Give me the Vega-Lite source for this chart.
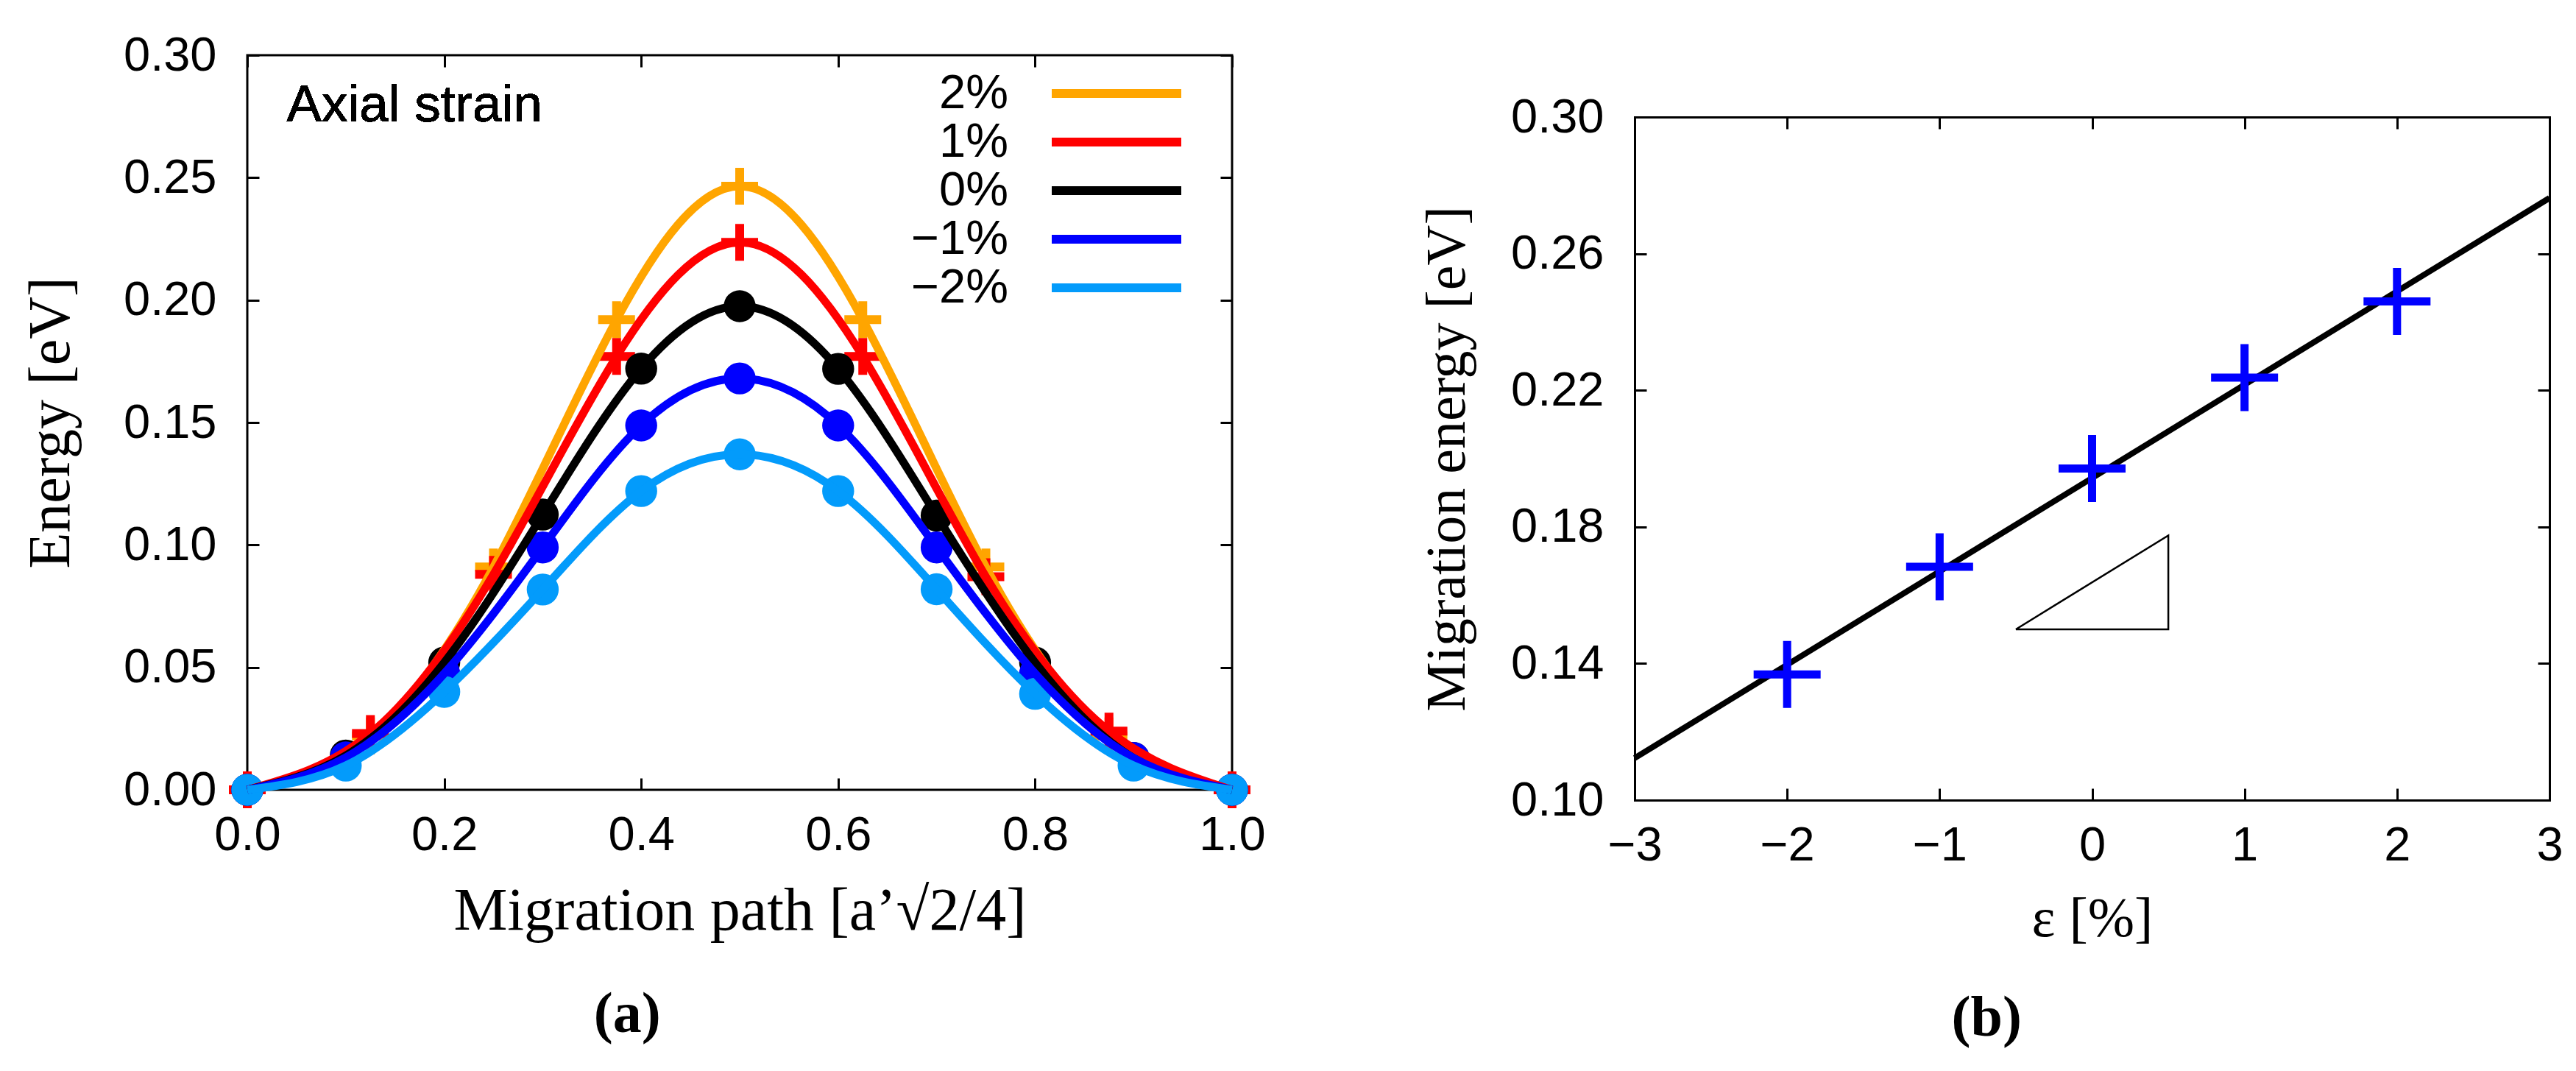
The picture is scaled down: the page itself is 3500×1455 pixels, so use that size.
{
  "$schema": "https://vega.github.io/schema/vega-lite/v6.json",
  "background": "white",
  "padding": {"left": 27, "top": 41, "right": 10, "bottom": 10},
  "spacing": 203,
  "config": {
    "view": {"stroke": "black", "strokeWidth": 3},
    "axis": {
      "domain": false, "grid": false, "labelFlush": false,
      "tickColor": "black", "tickWidth": 3, "tickSize": -16,
      "labelFont": "Liberation Sans", "labelFontSize": 65, "labelColor": "black", "labelPadding": 58,
      "titleFont": "Liberation Serif", "titleFontSize": 76, "titleFontWeight": "normal", "titleColor": "black"
    },
    "axisX": {"labelPadding": 46},
    "title": {"font": "Liberation Serif", "fontSize": 78, "fontWeight": "bold", "color": "black", "anchor": "middle", "frame": "bounds"}
  },
  "datasets": {
    "path": [
      {"x": 0, "E": 0, "strain": "2%"},
      {"x": 0.125, "E": 0.022, "strain": "2%"},
      {"x": 0.25, "E": 0.091, "strain": "2%"},
      {"x": 0.375, "E": 0.192, "strain": "2%"},
      {"x": 0.5, "E": 0.2465, "strain": "2%"},
      {"x": 0.625, "E": 0.192, "strain": "2%"},
      {"x": 0.75, "E": 0.091, "strain": "2%"},
      {"x": 0.875, "E": 0.022, "strain": "2%"},
      {"x": 1, "E": 0, "strain": "2%"},
      {"x": 0, "E": 0, "strain": "1%"},
      {"x": 0.125, "E": 0.023, "strain": "1%"},
      {"x": 0.25, "E": 0.088, "strain": "1%"},
      {"x": 0.375, "E": 0.177, "strain": "1%"},
      {"x": 0.5, "E": 0.2236, "strain": "1%"},
      {"x": 0.625, "E": 0.177, "strain": "1%"},
      {"x": 0.75, "E": 0.087, "strain": "1%"},
      {"x": 0.875, "E": 0.024, "strain": "1%"},
      {"x": 1, "E": 0, "strain": "1%"},
      {"x": 0, "E": 0, "strain": "0%"},
      {"x": 0.1, "E": 0.014, "strain": "0%"},
      {"x": 0.2, "E": 0.052, "strain": "0%"},
      {"x": 0.3, "E": 0.1124, "strain": "0%"},
      {"x": 0.4, "E": 0.172, "strain": "0%"},
      {"x": 0.5, "E": 0.1975, "strain": "0%"},
      {"x": 0.6, "E": 0.1719, "strain": "0%"},
      {"x": 0.7, "E": 0.112, "strain": "0%"},
      {"x": 0.8, "E": 0.052, "strain": "0%"},
      {"x": 0.9, "E": 0.013, "strain": "0%"},
      {"x": 1, "E": 0, "strain": "0%"},
      {"x": 0, "E": 0, "strain": "−1%"},
      {"x": 0.1, "E": 0.0132, "strain": "−1%"},
      {"x": 0.2, "E": 0.0475, "strain": "−1%"},
      {"x": 0.3, "E": 0.099, "strain": "−1%"},
      {"x": 0.4, "E": 0.1488, "strain": "−1%"},
      {"x": 0.5, "E": 0.168, "strain": "−1%"},
      {"x": 0.6, "E": 0.1488, "strain": "−1%"},
      {"x": 0.7, "E": 0.099, "strain": "−1%"},
      {"x": 0.8, "E": 0.0475, "strain": "−1%"},
      {"x": 0.9, "E": 0.013, "strain": "−1%"},
      {"x": 1, "E": 0, "strain": "−1%"},
      {"x": 0, "E": 0, "strain": "−2%"},
      {"x": 0.1, "E": 0.0099, "strain": "−2%"},
      {"x": 0.2, "E": 0.04, "strain": "−2%"},
      {"x": 0.3, "E": 0.0818, "strain": "−2%"},
      {"x": 0.4, "E": 0.122, "strain": "−2%"},
      {"x": 0.5, "E": 0.137, "strain": "−2%"},
      {"x": 0.6, "E": 0.122, "strain": "−2%"},
      {"x": 0.7, "E": 0.0819, "strain": "−2%"},
      {"x": 0.8, "E": 0.0392, "strain": "−2%"},
      {"x": 0.9, "E": 0.0099, "strain": "−2%"},
      {"x": 1, "E": 0, "strain": "−2%"}
    ],
    "barrier": [
      {"eps": -2, "Em": 0.1368},
      {"eps": -1, "Em": 0.1683},
      {"eps": 0, "Em": 0.1971},
      {"eps": 1, "Em": 0.2237},
      {"eps": 2, "Em": 0.246}
    ],
    "fit": [
      {"eps": -3, "Em": 0.1123},
      {"eps": 3, "Em": 0.2763}
    ],
    "triangle": [
      {"i": 0, "eps": -0.5, "Em": 0.15},
      {"i": 1, "eps": 0.5, "Em": 0.15},
      {"i": 2, "eps": 0.5, "Em": 0.1775},
      {"i": 3, "eps": -0.5, "Em": 0.15}
    ]
  },
  "hconcat": [
    {
      "title": {"text": "(a)", "orient": "bottom", "offset": 62, "dx": -24},
      "width": 1338,
      "height": 998,
      "data": {"name": "path"},
      "layer": [
        {
          "transform": [{"filter": "datum.strain == '2%' || datum.strain == '1%'"}],
          "mark": {"type": "point", "shape": "M-1,0H1M0,-1V1", "size": 2500, "strokeWidth": 12, "filled": false, "opacity": 1},
          "encoding": {
            "x": {"field": "x", "type": "quantitative", "scale": {"domain": [0, 1], "nice": false}, "axis": null},
            "y": {"field": "E", "type": "quantitative", "scale": {"domain": [0, 0.3], "nice": false}, "axis": null},
            "stroke": {
              "field": "strain", "type": "nominal", "legend": null,
              "scale": {"domain": ["2%", "1%"], "range": ["#ffa500", "#ff0000"]}
            }
          }
        },
        {
          "transform": [{"filter": "datum.strain != '2%' && datum.strain != '1%'"}],
          "mark": {"type": "point", "shape": "circle", "size": 1886, "filled": true, "opacity": 1},
          "encoding": {
            "x": {"field": "x", "type": "quantitative", "scale": {"domain": [0, 1], "nice": false}, "axis": null},
            "y": {"field": "E", "type": "quantitative", "scale": {"domain": [0, 0.3], "nice": false}, "axis": null},
            "fill": {
              "field": "strain", "type": "nominal", "legend": null,
              "scale": {"domain": ["0%", "−1%", "−2%"], "range": ["#000000", "#0000ff", "#039bfb"]}
            }
          }
        },
        {
          "mark": {"type": "line", "interpolate": "natural", "strokeWidth": 11},
          "encoding": {
            "x": {
              "field": "x", "type": "quantitative", "scale": {"domain": [0, 1], "nice": false},
              "axis": {"orient": "bottom", "values": [0, 0.2, 0.4, 0.6, 0.8, 1], "format": ".1f", "title": "Migration path [a’√2/4]", "titlePadding": 30, "titleFontSize": 82}
            },
            "y": {
              "field": "E", "type": "quantitative", "scale": {"domain": [0, 0.3], "nice": false},
              "axis": {"orient": "left", "values": [0, 0.05, 0.1, 0.15, 0.2, 0.25, 0.3], "format": ".2f", "title": "Energy [eV]", "titlePadding": 57, "titleFontSize": 80}
            },
            "color": {
              "field": "strain", "type": "nominal",
              "scale": {"domain": ["2%", "1%", "0%", "−1%", "−2%"], "range": ["#ffa500", "#ff0000", "#000000", "#0000ff", "#039bfb"]},
              "legend": {
                "title": null, "orient": "none", "legendX": 1148, "legendY": 19, "direction": "vertical",
                "symbolType": "M-3.3,0H3.3", "symbolSize": 2844, "symbolStrokeWidth": 12, "symbolOpacity": 1,
                "labelFont": "Liberation Sans", "labelFontSize": 65, "labelColor": "black", "labelAlign": "right", "labelOffset": -180, "labelLimit": 400,
                "rowPadding": 0, "padding": 0
              }
            }
          }
        },
        {
          "mark": {"type": "text", "text": "Axial strain", "font": "Liberation Sans", "fontSize": 71, "align": "left", "baseline": "alphabetic", "color": "black"},
          "encoding": {
            "x": {"datum": 0.04, "type": "quantitative", "scale": {"domain": [0, 1], "nice": false}, "axis": {"orient": "top", "values": [0, 0.2, 0.4, 0.6, 0.8, 1], "labels": false, "title": null}},
            "y": {"datum": 0.2728, "type": "quantitative", "scale": {"domain": [0, 0.3], "nice": false}, "axis": {"orient": "right", "values": [0, 0.05, 0.1, 0.15, 0.2, 0.25, 0.3], "labels": false, "title": null}}
          }
        }
      ],
      "resolve": {"axis": {"x": "independent", "y": "independent"}}
    },
    {
      "title": {"text": "(b)", "orient": "bottom", "offset": 59, "dx": -6},
      "width": 1243,
      "height": 1012,
      "view": {"stroke": null},
      "layer": [
        {
          "mark": {"type": "rule", "strokeDash": [6, 6], "strokeWidth": 1.5, "color": "black"},
          "encoding": {
            "x": {"datum": 0, "type": "quantitative", "scale": {"domain": [-3, 3], "nice": false}, "axis": null},
            "y": {"datum": 0.1, "type": "quantitative", "scale": {"domain": [0.1, 0.3], "nice": false, "zero": false, "range": [1012, 84]}, "axis": null},
            "y2": {"datum": 0.3}
          }
        },
        {
          "mark": {"type": "rule", "strokeDash": [6, 6], "strokeWidth": 1.5, "color": "black"},
          "encoding": {
            "y": {"datum": 0.197, "type": "quantitative", "scale": {"domain": [0.1, 0.3], "nice": false, "zero": false, "range": [1012, 84]}, "axis": null}
          }
        },
        {
          "data": {"name": "triangle"},
          "mark": {"type": "line", "strokeWidth": 2.5, "color": "black"},
          "encoding": {
            "x": {"field": "eps", "type": "quantitative", "scale": {"domain": [-3, 3], "nice": false}, "axis": null},
            "y": {"field": "Em", "type": "quantitative", "scale": {"domain": [0.1, 0.3], "nice": false, "zero": false, "range": [1012, 84]}, "axis": null},
            "order": {"field": "i"}
          }
        },
        {
          "data": {"name": "fit"},
          "mark": {"type": "line", "strokeWidth": 8, "color": "black"},
          "encoding": {
            "x": {
              "field": "eps", "type": "quantitative", "scale": {"domain": [-3, 3], "nice": false},
              "axis": {"orient": "bottom", "values": [-3, -2, -1, 0, 1, 2, 3], "format": "d", "title": "ε [%]", "titlePadding": 30,
                       "domain": true, "domainColor": "black", "domainWidth": 3, "domainCap": "square"}
            },
            "y": {
              "field": "Em", "type": "quantitative", "scale": {"domain": [0.1, 0.3], "nice": false, "zero": false, "range": [1012, 84]},
              "axis": {"orient": "left", "values": [0.1, 0.14, 0.18, 0.22, 0.26, 0.3], "format": ".2f", "title": "Migration energy [eV]", "titlePadding": 47,
                       "domain": true, "domainColor": "black", "domainWidth": 3, "domainCap": "square"}
            }
          }
        },
        {
          "data": {"name": "barrier"},
          "mark": {"type": "point", "shape": "M-1,0H1M0,-1V1", "size": 8281, "strokeWidth": 11, "filled": false, "color": "#0000ff", "opacity": 1},
          "encoding": {
            "x": {"field": "eps", "type": "quantitative", "scale": {"domain": [-3, 3], "nice": false}, "axis": null},
            "y": {"field": "Em", "type": "quantitative", "scale": {"domain": [0.1, 0.3], "nice": false, "zero": false, "range": [1012, 84]}, "axis": null}
          }
        },
        {
          "mark": {"type": "text", "text": "Axial strain", "font": "Liberation Sans", "fontSize": 66, "align": "left", "baseline": "alphabetic", "color": "black"},
          "encoding": {
            "x": {"datum": -2.807, "type": "quantitative", "scale": {"domain": [-3, 3], "nice": false},
                  "axis": {"orient": "top", "offset": -84, "values": [-3, -2, -1, 0, 1, 2, 3], "labels": false, "title": null,
                           "domain": true, "domainColor": "black", "domainWidth": 3, "domainCap": "square"}},
            "y": {"datum": 0.2751, "type": "quantitative", "scale": {"domain": [0.1, 0.3], "nice": false, "zero": false, "range": [1012, 84]},
                  "axis": {"orient": "right", "values": [0.1, 0.14, 0.18, 0.22, 0.26, 0.3], "labels": false, "title": null,
                           "domain": true, "domainColor": "black", "domainWidth": 3, "domainCap": "square"}}
          }
        }
      ],
      "resolve": {"axis": {"x": "independent", "y": "independent"}}
    }
  ]
}
